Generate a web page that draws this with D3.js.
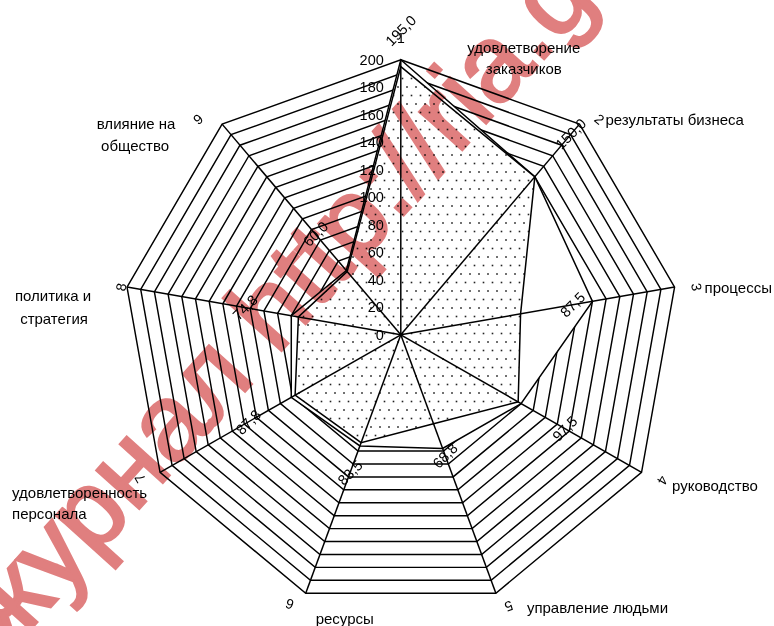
<!DOCTYPE html>
<html><head><meta charset="utf-8">
<script src="https://cdn.jsdelivr.net/npm/d3@7"></script>
<style>
body{margin:0;background:#fff}
svg{display:block}
text{font-family:"Liberation Sans",Arial,sans-serif;fill:#000}
</style>
</head><body>
<svg id="chart" width="774" height="626"></svg>
<script>
// ---------- data ----------
const categories = [
  "удовлетворение заказчиков",
  "результаты бизнеса",
  "процессы",
  "руководство",
  "управление людьми",
  "ресурсы",
  "удовлетворенность персонала",
  "политика и стратегия",
  "влияние на общество"
];
const axisNumbers = ["1","2","3","4","5","6","7","8","9"];
const scoreValues = [195.0, 150.0, 87.5, 97.5, 68.8, 83.5, 87.8, 74.8, 60.0];
const envelopeValues = [200, 150, 140, 100, 88, 86, 91, 80, 61];
const tickValues = [0, 20, 40, 60, 80, 100, 120, 140, 160, 180, 200];
const gridValues = [10,20,30,40,50,60,70,80,90,100,110,120,130,140,150,160,170,180,190,200];
const watermarkText = "журнал http://ria.gov.ru";

// ---------- layout ----------
const cx = 400.8, cy = 334.8, rx = 278, ry = 275;
const nameLines = [
  ["удовлетворение","заказчиков"],
  ["результаты бизнеса"],
  ["процессы"],
  ["руководство"],
  ["управление людьми"],
  ["ресурсы"],
  ["удовлетворенность","персонала"],
  ["политика и","стратегия"],
  ["влияние на","общество"]
];
const nameLayout = [
  {anchor:"middle", off:[[123,-12.5],[123,8.5]]},
  {anchor:"start",  off:[[26,-5]]},
  {anchor:"start",  off:[[30,0]]},
  {anchor:"start",  off:[[30.5,12.7]]},
  {anchor:"start",  off:[[31,14]]},
  {anchor:"middle", off:[[39,25]]},
  {anchor:"start",  off:[[-148,20],[-148,41]]},
  {anchor:"middle", off:[[-74,8],[-73,31]]},
  {anchor:"middle", off:[[-86,-1],[-87,21]]}
];
const digitOffsets = [[0,-22],[20,-5],[22,0],[21,8],[13,13],[-16,11],[-20,6],[-6,0],[-24,-5]];
const labelGap = [36,56,53,54,34,32,54,54,49];

const svg = d3.select("#chart");
const n = categories.length;
const angle = d3.scaleLinear().domain([0, n]).range([0, 2*Math.PI]);
const r = d3.scaleLinear().domain([0, 200]).range([0, 1]);
function pt(i, v){
  const a = angle(i), k = r(v);
  return [cx + rx*k*Math.sin(a), cy - ry*k*Math.cos(a)];
}
const closed = d3.line().curve(d3.curveLinearClosed);

// dot pattern
const defs = svg.append("defs");
const pat = defs.append("pattern").attr("id","dots").attr("patternUnits","userSpaceOnUse")
  .attr("width",9).attr("height",17);
pat.append("rect").attr("width",9).attr("height",17).attr("fill","#fff");
pat.append("rect").attr("x",1.2).attr("y",1.2).attr("width",1.6).attr("height",1.6).attr("fill","#222");
pat.append("rect").attr("x",5.7).attr("y",9.7).attr("width",1.6).attr("height",1.6).attr("fill","#222");

// rings
svg.append("g").selectAll("path").data(gridValues).join("path")
  .attr("d", g => closed(d3.range(n).map(i => pt(i, g))))
  .attr("fill","none").attr("stroke","#000").attr("stroke-width",1.45);

// envelope (white)
svg.append("path")
  .attr("d", closed(envelopeValues.map((v,i) => pt(i, v))))
  .attr("fill","#fff").attr("stroke","#000").attr("stroke-width",1.5);

// scores (dotted)
svg.append("path")
  .attr("d", closed(scoreValues.map((v,i) => pt(i, v))))
  .attr("fill","url(#dots)").attr("stroke","#000").attr("stroke-width",1.5);

// axes
svg.append("g").selectAll("line").data(d3.range(n)).join("line")
  .attr("x1", cx).attr("y1", cy)
  .attr("x2", i => pt(i,200)[0]).attr("y2", i => pt(i,200)[1])
  .attr("stroke","#000").attr("stroke-width",1.5);

// tick labels
svg.append("g").selectAll("text").data(tickValues).join("text")
  .attr("x", cx - 17).attr("y", t => pt(0, t)[1])
  .attr("text-anchor","end").attr("dominant-baseline","central")
  .attr("font-size","14.5px").text(t => t);

// data labels
const fmt = v => d3.format(".1f")(v).replace(".", ",");
svg.append("g").selectAll("text").data(scoreValues).join("text")
  .attr("transform", (v,i) => {
    const p = pt(i, v), a = angle(i);
    const x = p[0] + labelGap[i]*Math.sin(a), y = p[1] - labelGap[i]*Math.cos(a);
    return `translate(${x},${y}) rotate(-45)`;
  })
  .attr("text-anchor","middle").attr("dominant-baseline","central")
  .attr("font-size","14.5px").text(v => fmt(v));

// axis numbers
svg.append("g").selectAll("text").data(axisNumbers).join("text")
  .attr("transform", (d,i) => {
    const p = pt(i,200);
    return `translate(${p[0]+digitOffsets[i][0]},${p[1]+digitOffsets[i][1]}) rotate(${angle(i)*180/Math.PI})`;
  })
  .attr("text-anchor","middle").attr("dominant-baseline","central")
  .attr("font-size","14px").text(d => d);

// category names
categories.forEach((c, i) => {
  const p = pt(i, 200);
  const L = nameLayout[i];
  nameLines[i].forEach((line, j) => {
    svg.append("text")
      .attr("x", p[0] + L.off[j][0]).attr("y", p[1] + L.off[j][1])
      .attr("text-anchor", L.anchor).attr("dominant-baseline","central")
      .attr("font-size","15px").text(line);
  });
});

// watermark (anchored on the centre of its second letter)
const fs = 108;
const tmp = svg.append("text").attr("font-size", fs+"px").text("ж");
const w1 = tmp.node().getComputedTextLength();
tmp.text("у");
const w2 = tmp.node().getComputedTextLength();
tmp.remove();
svg.append("text")
  .attr("transform","translate(55,560) rotate(-48)")
  .attr("x", -(w1 + w2/2)).attr("y", 0.26*fs)
  .attr("font-size", fs+"px")
  .style("fill","#e07f7f").style("stroke","#e07f7f").style("stroke-width",3)
  .style("mix-blend-mode","multiply")
  .text(watermarkText);
</script>
</body></html>
